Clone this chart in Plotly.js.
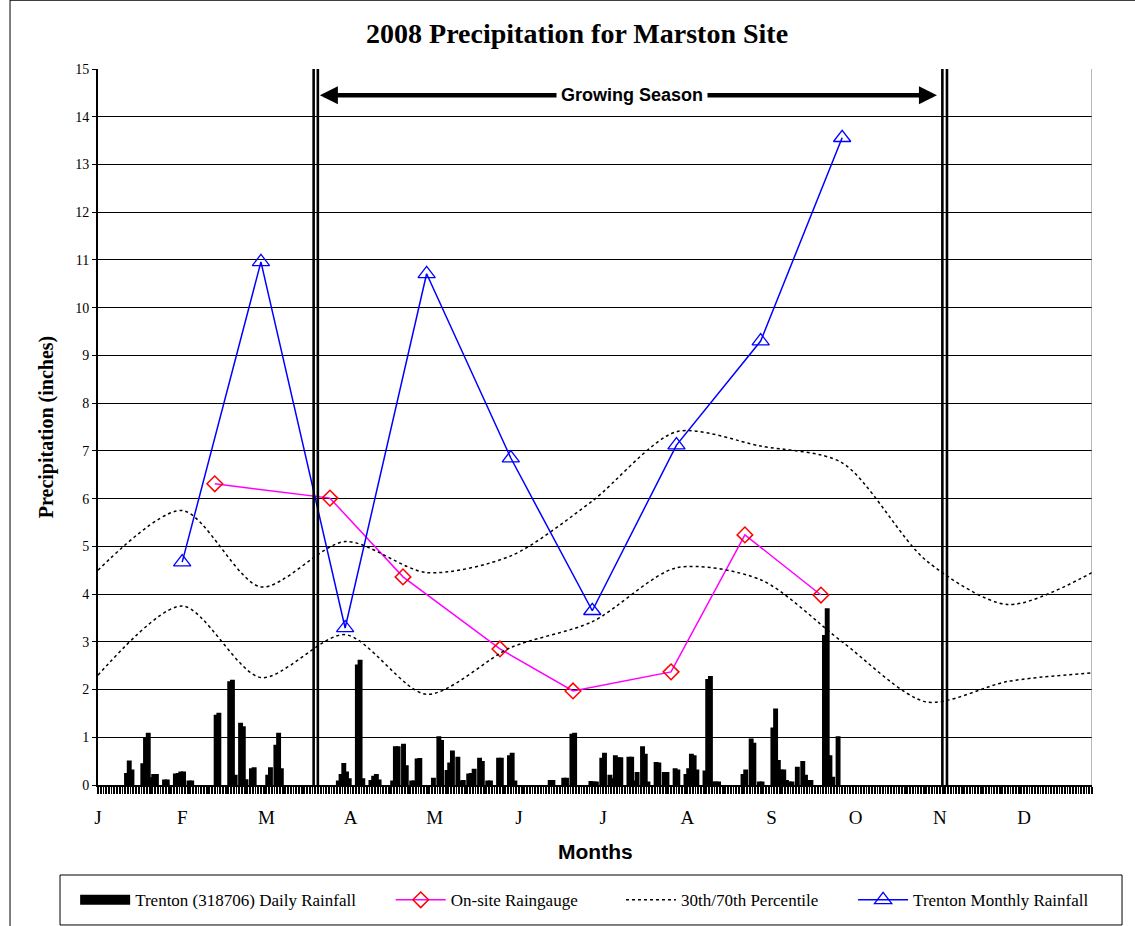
<!DOCTYPE html>
<html>
<head>
<meta charset="utf-8">
<script src="https://cdn.plot.ly/plotly-3.0.1.min.js"></script>
<style>html,body{margin:0;padding:0;background:#fff;}#chart{width:1135px;height:926px;}</style>
</head>
<body>
<div id="chart"></div>
<script>
// ---- data ----
var monthLabels = ['J','F','M','A','M','J','J','A','S','O','N','D'];
var monthTickDays = [0,31,62,93,124,155,186,217,248,279,310,341];

// Trenton daily rainfall (day index of 2008, inches)
var rainDays = [10,11,12,16,17,18,19,20,21,24,25,28,29,30,31,33,34,43,44,48,49,50,52,53,54,56,57,
  62,63,65,66,67,88,89,90,91,92,95,96,97,100,101,102,103,108,109,110,112,113,115,116,117,118,
  123,125,126,128,129,130,132,133,134,136,137,138,140,141,143,144,147,148,151,152,153,166,167,171,172,174,175,181,
  182,183,185,186,188,189,190,191,192,195,196,197,198,200,201,202,205,206,208,209,212,213,216,217,218,219,220,223,224,225,226,227,228,237,238,240,241,
  243,244,248,249,250,251,252,253,254,255,257,259,260,261,262,267,268,269,270,272];
var rainValues = [0.23,0.49,0.30,0.43,0.98,1.07,0.14,0.21,0.21,0.09,0.09,0.22,0.23,0.26,0.26,0.07,0.07,1.45,1.49,2.15,2.18,0.19,1.28,1.21,0.10,0.33,0.35,
  0.19,0.35,0.82,1.07,0.33,0.07,0.21,0.44,0.26,0.12,2.50,2.60,0.12,0.08,0.17,0.21,0.09,0.07,0.79,0.79,0.84,0.39,0.07,0.07,0.53,0.54,
  0.13,1.00,0.92,0.29,0.45,0.70,0.57,0.07,0.08,0.22,0.23,0.32,0.55,0.48,0.07,0.07,0.55,0.55,0.60,0.65,0.07,0.08,0.08,0.13,0.13,1.05,1.07,0.06,
  0.05,0.05,0.55,0.65,0.19,0.12,0.60,0.56,0.56,0.57,0.57,0.07,0.25,0.79,0.63,0.05,0.46,0.45,0.25,0.25,0.33,0.30,0.21,0.33,0.63,0.60,0.30,0.28,2.20,2.26,0.05,0.05,0.05,0.21,0.30,0.95,0.86,
  0.05,0.05,1.18,1.58,0.50,0.30,0.30,0.08,0.05,0.05,0.36,0.48,0.19,0.08,0.08,3.12,3.68,0.60,0.15,1.00];

// On-site raingauge
var onsiteDays = [43,85.4,112.3,148,174.9,211,238.2,266.2];
var onsiteValues = [6.31,6.01,4.36,2.85,1.97,2.37,5.24,3.98];

// Trenton monthly rainfall
var monthlyDays = [31,60,91,121,152,182,213,244,274];
var monthlyValues = [4.67,10.96,3.29,10.71,6.85,3.65,7.12,9.30,13.56];

// 30th / 70th percentile
var pctDays = [0,31,60,91,121,152,182,213,244,274,305,335,366];
var pct70 = [4.50,5.75,4.15,5.10,4.45,4.80,5.95,7.40,7.10,6.75,4.70,3.78,4.45];
var pct30 = [2.30,3.75,2.25,3.15,1.90,2.88,3.42,4.55,4.30,3.00,1.74,2.17,2.35];

// Growing season markers (day index)
var seasonLines = [79.4,80.95,310.9,312.6];
var seasonArrow = {start:81.7, end:308.9, mid:196.6, level:14.45};

var serif = 'Liberation Serif, Times New Roman, serif';
var sans = 'Liberation Sans, Arial, sans-serif';
function pad(n){ var s=''; for (var i=0;i<n;i++) s+='\u00a0'; return s; }

var traces = [
  {type:'bar', x:rainDays.map(function(d){return d+0.5;}), y:rainValues, width:1,
   marker:{color:'#000', line:{color:'#000', width:2.2}}, showlegend:false, hoverinfo:'x+y'},
  {type:'scatter', mode:'lines', x:[null], y:[null], name:'Trenton (318706) Daily Rainfall' + pad(7),
   line:{color:'#000', width:14}},
  {type:'scatter', mode:'lines+markers', x:onsiteDays, y:onsiteValues, name:'On-site Raingauge' + pad(9),
   line:{color:'#ff00ff', width:1.5},
   marker:{symbol:'diamond-open', size:12, color:'#ff0000', line:{color:'#ff0000', width:1.5}}},
  {type:'scatter', mode:'lines', x:pctDays, y:pct70, name:'30th/70th Percentile' + pad(7), legendgroup:'p',
   line:{color:'#000', width:1.5, dash:'dot', shape:'spline', smoothing:0.8}},
  {type:'scatter', mode:'lines', x:pctDays, y:pct30, name:'30th', legendgroup:'p', showlegend:false,
   line:{color:'#000', width:1.5, dash:'dot', shape:'spline', smoothing:0.8}},
  {type:'scatter', mode:'lines+markers', x:monthlyDays, y:monthlyValues, name:'Trenton Monthly Rainfall',
   line:{color:'#0000ff', width:1.5},
   marker:{symbol:'triangle-up-open', size:15, color:'#0000ff', line:{color:'#0000ff', width:1.3}}}
];

var shapes = [];
seasonLines.forEach(function(d){
  shapes.push({type:'line', xref:'x', yref:'y', x0:d, x1:d, y0:0, y1:15, line:{color:'#000', width:2.6}, layer:'above'});
});
// right plot border
shapes.push({type:'line', xref:'x', yref:'y', x0:366, x1:366, y0:0, y1:15, line:{color:'#777', width:1}});
// chart border (left and top)
shapes.push({type:'line', xref:'paper', yref:'paper', x0:-0.0885, x1:-0.0885, y0:-0.2, y1:1.097, line:{color:'#000', width:1}});
shapes.push({type:'line', xref:'paper', yref:'paper', x0:-0.0885, x1:1.05, y0:1.096, y1:1.096, line:{color:'#000', width:1}});
// legend box
shapes.push({type:'rect', xref:'paper', yref:'paper', x0:-0.0382, x1:1.0302, y0:-0.1955, y1:-0.1257, line:{color:'#000', width:1}, fillcolor:'rgba(0,0,0,0)'});

var annotations = [
  {x:seasonArrow.start, y:seasonArrow.level, ax:seasonArrow.mid, ay:seasonArrow.level, axref:'x', ayref:'y', xref:'x', yref:'y',
   text:'', showarrow:true, arrowhead:2, arrowsize:0.8, arrowwidth:4.5, arrowcolor:'#000'},
  {x:seasonArrow.end, y:seasonArrow.level, ax:seasonArrow.mid, ay:seasonArrow.level, axref:'x', ayref:'y', xref:'x', yref:'y',
   text:'', showarrow:true, arrowhead:2, arrowsize:0.8, arrowwidth:4.5, arrowcolor:'#000'},
  {x:seasonArrow.mid, y:seasonArrow.level, xref:'x', yref:'y', text:'<b>Growing Season</b>', showarrow:false,
   font:{family:sans, size:18, color:'#000'}, bgcolor:'#fff', borderpad:4},
  // x-axis title placed exactly
  {xref:'paper', yref:'paper', x:0.5, y:-0.0922, xanchor:'center', yanchor:'middle', showarrow:false,
   text:'<b>Months</b>', font:{family:sans, size:21, color:'#000'}}
];

var layout = {
  width:1135, height:926,
  margin:{l:98, r:43, t:69, b:141, autoexpand:false},
  paper_bgcolor:'#fff', plot_bgcolor:'#fff',
  title:{text:'<b>2008 Precipitation for Marston Site</b>', font:{family:serif, size:28, color:'#000'},
         xref:'paper', x:0.482, xanchor:'center', yref:'container', y:0.964, yanchor:'middle'},
  bargap:0,
  showlegend:true,
  legend:{orientation:'h', x:-0.023, xanchor:'left', y:-0.161, yanchor:'middle',
          font:{family:serif, size:17, color:'#000'},
          bgcolor:'rgba(0,0,0,0)', borderwidth:0, itemwidth:50, traceorder:'normal'},
  xaxis:{range:[0,366], automargin:false, tickmode:'array', tickvals:monthTickDays, ticktext:monthLabels, ticks:'',
         showgrid:false, zeroline:false, showline:true, linecolor:'#000', linewidth:2,
         tickfont:{family:serif, size:19, color:'#000'}, ticklabelstandoff:14,
         minor:{ticks:'outside', tickmode:'linear', tick0:0, dtick:1, ticklen:7, tickcolor:'#000', tickwidth:1.8, showgrid:false}},
  yaxis:{range:[0,15], automargin:false, tickmode:'linear', tick0:0, dtick:1, showgrid:true, gridcolor:'#000', gridwidth:1,
         zeroline:false, showline:true, linecolor:'#000', linewidth:2, ticks:'outside', ticklen:4, tickcolor:'#000',
         tickfont:{family:serif, size:14, color:'#000'},
         title:{text:'<b>Precipitation (inches)</b>', font:{family:serif, size:20, color:'#000'}, standoff:16}},
  shapes:shapes,
  annotations:annotations
};

Plotly.newPlot('chart', traces, layout, {displayModeBar:false, staticPlot:true});
</script>
</body>
</html>
